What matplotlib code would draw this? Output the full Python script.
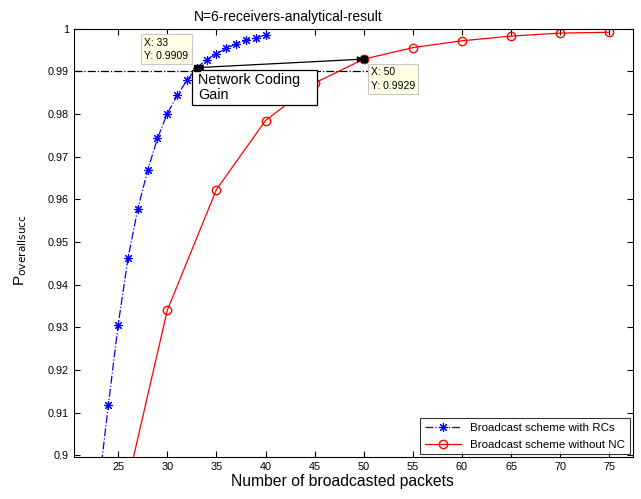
import matplotlib
matplotlib.use('Agg')
import matplotlib.pyplot as plt
from matplotlib.patches import Rectangle
import numpy as np

plt.rcParams['font.family'] = ['Liberation Sans', 'DejaVu Sans']

# blue: scheme with RCs
rc_x = [23, 24, 25, 26, 27, 28, 29, 30, 31, 32, 33, 34, 35, 36, 37, 38, 39, 40]
rc_y = [0.8921, 0.9118, 0.9306, 0.9462, 0.9578, 0.9668, 0.9743, 0.9801, 0.9844,
        0.9879, 0.9909, 0.9928, 0.9942, 0.9954, 0.9965, 0.9973, 0.9979, 0.9985]

# red: scheme without NC
nc_x = [25, 30, 35, 40, 45, 50, 55, 60, 65, 70, 75]
nc_y = [0.884, 0.934, 0.9623, 0.9785, 0.9873, 0.9929, 0.9956, 0.9972, 0.9983, 0.9990, 0.9992]

target = 0.99
tip_a = (33, 0.9909)
tip_b = (50, 0.9929)

fig = plt.figure(figsize=(6.41, 4.99), dpi=100)
ax = fig.add_axes([0.1154, 0.0842, 0.872, 0.858])

ax.plot(rc_x, rc_y, color='blue', linestyle='-.', linewidth=0.9, marker=(8, 2, 0),
        markersize=6.5, markeredgewidth=0.8, label='Broadcast scheme with RCs')
ax.plot(nc_x, nc_y, color='red', linestyle='-', linewidth=0.9, marker='o',
        markersize=6, markerfacecolor='none', markeredgecolor='red',
        label='Broadcast scheme without NC')

ax.plot([20.5, 50.5], [target, target], color='black', linestyle='-.', linewidth=0.9)

# data tips
for p in (tip_a, tip_b):
    ax.plot(p[0], p[1], 's', color='black', markersize=5, zorder=5)
ax.annotate('', xy=tip_a, xytext=tip_b,
            arrowprops=dict(arrowstyle='<|-|>', color='black', lw=0.9,
                            shrinkA=0, shrinkB=0, mutation_scale=9))

tip_box = dict(boxstyle='square,pad=0.3', facecolor='#ffffe6', edgecolor='#c8c8c8', lw=0.8)
ax.annotate('X: %d\nY: %.4f' % tip_a, xy=tip_a, xytext=(-6, 5), textcoords='offset points',
            fontsize=7.5, ha='right', va='bottom', multialignment='left',
            bbox=tip_box, linespacing=1.4, zorder=6)
ax.annotate('X: %d\nY: %.4f' % tip_b, xy=tip_b, xytext=(5, -6), textcoords='offset points',
            fontsize=7.5, ha='left', va='top', multialignment='left',
            bbox=tip_box, linespacing=1.4, zorder=6)

ax.add_patch(Rectangle((32.52, 0.98225), 12.73, 0.00805, facecolor='white',
                       edgecolor='black', lw=0.9, zorder=4))
ax.text(33.13, 0.9897, 'Network Coding\nGain', fontsize=10.3, ha='left', va='top',
        linespacing=1.1, zorder=4.5)

ax.set_xlim(20.5, 77.4)
ax.set_ylim(0.8996, 1.0)
ax.set_xticks(np.arange(25, 76, 5))
ax.set_yticks(np.arange(0.9, 1.0001, 0.01))
ax.set_yticklabels(['0.9', '0.91', '0.92', '0.93', '0.94', '0.95', '0.96',
                    '0.97', '0.98', '0.99', '1'])
ax.tick_params(direction='in', top=True, right=True, labelsize=7.8, length=4)

ax.set_title('N=6-receivers-analytical-result', fontsize=10, x=0.383)
ax.set_xlabel('Number of broadcasted packets', fontsize=11.3)
ax.xaxis.set_label_coords(0.481, -0.04)
ax.set_ylabel(r'P$_{\rm overallsucc}$', fontsize=11)
ax.yaxis.set_label_coords(-0.08, 0.484)

leg = ax.legend(loc='lower right', fontsize=8.25, fancybox=False, edgecolor='black',
                borderaxespad=0.25, handlelength=3.2, labelspacing=0.6)
leg.get_frame().set_linewidth(0.8)

fig.savefig('out.png', dpi=100)
